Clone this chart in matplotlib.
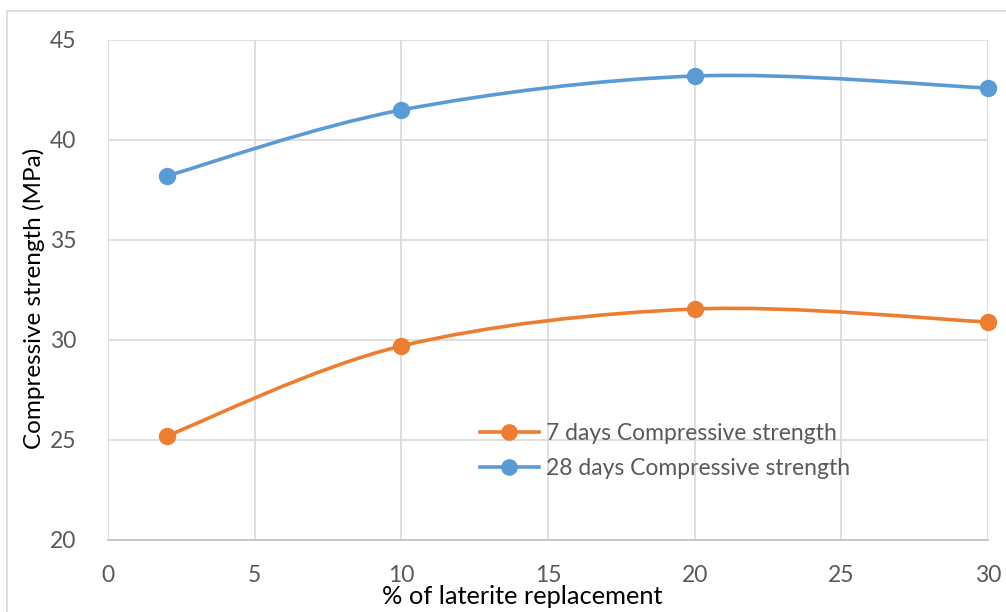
import matplotlib
matplotlib.use("Agg")
import matplotlib.pyplot as plt
from matplotlib.path import Path
from matplotlib.patches import PathPatch, Rectangle
from matplotlib.lines import Line2D

plt.rcParams['font.family'] = ['Lato', 'DejaVu Sans']

replacement = [2, 10, 20, 30]
strength_7d = [25.2, 29.7, 31.55, 30.9]
strength_28d = [38.2, 41.5, 43.2, 42.6]
series_names = ["7 days Compressive strength", "28 days Compressive strength"]
x_ticks = [0, 5, 10, 15, 20, 25, 30]
y_ticks = [20, 25, 30, 35, 40, 45]

ORANGE = "#ED7D31"
BLUE = "#5B9BD5"
GRID = "#D9D9D9"
TXT = "#595959"

W, H = 1006, 612
fig = plt.figure(figsize=(W / 100, H / 100), dpi=100)
fig.patches.append(Rectangle((7 / W, -0.01), 1.1, 1 - 11 / H + 0.01, transform=fig.transFigure,
                             fill=False, edgecolor="#D9D9D9", linewidth=1.2))
L, R, T, B = 108, 988, 40, 540
ax = fig.add_axes([L / W, 1 - B / H, (R - L) / W, (B - T) / H])


def smooth_path(xs, ys):
    pts = list(zip(xs, ys))
    n = len(pts)
    verts = [pts[0]]
    codes = [Path.MOVETO]
    for i in range(n - 1):
        p0 = pts[i - 1] if i > 0 else pts[i]
        p1 = pts[i]
        p2 = pts[i + 1]
        p3 = pts[i + 2] if i + 2 < n else pts[i + 1]
        c1 = (p1[0] + (p2[0] - p0[0]) / 6, p1[1] + (p2[1] - p0[1]) / 6)
        c2 = (p2[0] - (p3[0] - p1[0]) / 6, p2[1] - (p3[1] - p1[1]) / 6)
        verts += [c1, c2, p2]
        codes += [Path.CURVE4] * 3
    return Path(verts, codes)


for ys, col in [(strength_7d, ORANGE), (strength_28d, BLUE)]:
    ax.add_patch(PathPatch(smooth_path(replacement, ys), facecolor="none", edgecolor=col,
                           linewidth=2.6, capstyle="round", zorder=3, clip_on=False))
    ax.plot(replacement, ys, linestyle="none", marker="o", markersize=11.5, color=col,
            zorder=4, clip_on=False)

ax.set_xlim(0, 30)
ax.set_ylim(20, 45)
ax.set_xticks(x_ticks)
ax.set_yticks(y_ticks)
ax.grid(True, color=GRID, linewidth=1.2)
ax.set_axisbelow(True)
for s in ["top", "right", "left"]:
    ax.spines[s].set_visible(False)
ax.spines["bottom"].set_color("#BFBFBF")
ax.spines["bottom"].set_linewidth(1.2)
ax.tick_params(length=0, labelsize=16.5, labelcolor=TXT)
ax.tick_params(axis="x", pad=18)
ax.tick_params(axis="y", pad=23)

ax.set_ylabel("Compressive strength (MPa)", fontsize=17.5, color="black", va="center", ha="center")
ax.yaxis.set_label_coords((34 - L) / (R - L), (B - 298) / (B - T))
ax.set_xlabel("% of laterite replacement", fontsize=18.3, color="black", va="center", ha="center")
ax.xaxis.set_label_coords((522 - L) / (R - L), (B - 597) / (B - T))

handles = [Line2D([], [], color=ORANGE, linewidth=2.6, marker="o", markersize=11),
           Line2D([], [], color=BLUE, linewidth=2.6, marker="o", markersize=11)]
ax.legend(handles, series_names, loc="upper left", bbox_to_anchor=(459 / W, 1 - 402 / H),
          bbox_transform=fig.transFigure, frameon=False, fontsize=16.5, labelcolor=TXT,
          handlelength=2.6, handletextpad=0.3, labelspacing=0.62)

fig.savefig("out.png", dpi=100)
